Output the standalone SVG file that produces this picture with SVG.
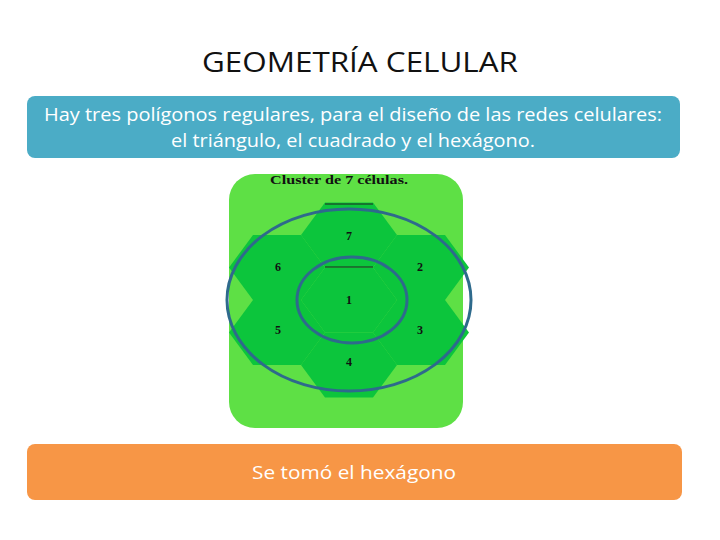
<svg xmlns="http://www.w3.org/2000/svg" width="720" height="540" viewBox="0 0 720 540">
<style>
.t{font-family:"Open Sans","Liberation Sans",sans-serif;text-anchor:middle}
.n{font-family:"Liberation Serif",serif;font-weight:bold;font-size:12px;text-anchor:middle;fill:#111}
.h{fill:#0CC53C}
.e{fill:none;stroke:#2E6A8C;stroke-width:3}
</style>
<defs><polygon id="hx" points="-48,0 -24,-32.5 24,-32.5 48,0 24,32.5 -24,32.5"/></defs>
<rect width="720" height="540" fill="#fff"/>
<g id="title"><text class="t" x="360" y="72" font-size="28" textLength="316" lengthAdjust="spacingAndGlyphs" fill="#111">GEOMETRÍA CELULAR</text></g>
<g id="box1"><rect x="27" y="96" width="653" height="62" rx="8" fill="#4BACC6"/>
<text class="t" x="353" y="121" font-size="18" fill="#fff" textLength="618" lengthAdjust="spacingAndGlyphs">Hay tres polígonos regulares, para el diseño de las redes celulares:</text>
<text class="t" x="353" y="147" font-size="18" fill="#fff" textLength="364" lengthAdjust="spacingAndGlyphs">el triángulo, el cuadrado y el hexágono.</text></g>
<g id="cluster">
<rect x="229" y="174" width="234" height="254" rx="26" fill="#5EE045"/>
<text class="n" x="339" y="184" font-size="13" textLength="138" lengthAdjust="spacingAndGlyphs">Cluster de 7 células.</text>
<g class="h">
<use href="#hx" x="349" y="300"/><use href="#hx" x="349" y="235"/><use href="#hx" x="349" y="365"/>
<use href="#hx" x="421" y="267.5"/><use href="#hx" x="421" y="332.5"/>
<use href="#hx" x="277" y="267.5"/><use href="#hx" x="277" y="332.5"/>
</g>
<line x1="325" y1="204" x2="373" y2="204" stroke="#222" stroke-width="1"/>
<line x1="325" y1="267" x2="373" y2="267" stroke="#222" stroke-width="1"/>
<text class="n" x="349" y="240">7</text><text class="n" x="349" y="304">1</text><text class="n" x="349" y="366">4</text>
<text class="n" x="420" y="271">2</text><text class="n" x="420" y="334">3</text>
<text class="n" x="278" y="271">6</text><text class="n" x="278" y="334">5</text>
<ellipse class="e" cx="349" cy="300" rx="122" ry="91"/>
<ellipse class="e" cx="352" cy="300" rx="55" ry="43"/>
</g>
<g id="box2"><rect x="27" y="444" width="655" height="56" rx="8" fill="#F79646"/>
<text class="t" x="354" y="479" font-size="18" fill="#fff" textLength="204" lengthAdjust="spacingAndGlyphs">Se tomó el hexágono</text></g>
<g id="connectors"/>
</svg>
